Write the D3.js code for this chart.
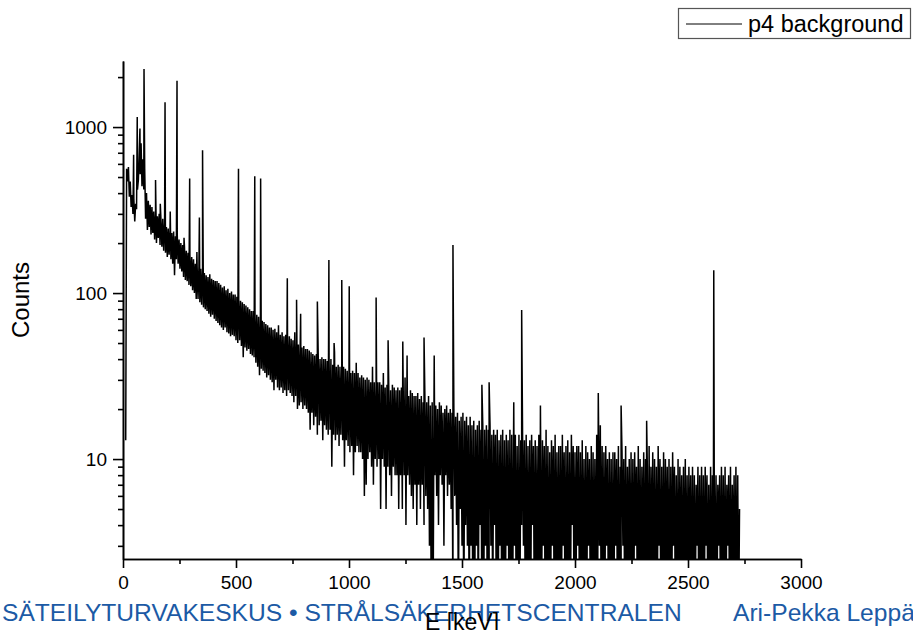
<!DOCTYPE html>
<html>
<head>
<meta charset="utf-8">
<script src="https://cdn.jsdelivr.net/npm/d3@7"></script>
<style>
  body { margin: 0; background: #fff; }
  svg { display: block; font-family: Arial, "Liberation Sans", sans-serif; }
</style>
</head>
<body>
<div class="container"></div>
<script>
const WIDTH = 913;
const HEIGHT = 630;
const LEFT = 123, RIGHT = 801, TOP = 61, BOTTOM = 559;

// spectrum as 8 keV bins starting at E0 keV: lowest and highest channel count in each bin
const E0 = 12;
const STEP = 8;
const binMin = [
  13, 470, 380, 330, 300, 270, 320, 480, 520, 440,
  420, 280, 240, 250, 225, 230, 210, 200, 215, 195,
  190, 180, 175, 165, 170, 160, 150, 128, 160, 150,
  140, 135, 125, 120, 118, 112, 110, 104, 100, 92,
  92, 88, 85, 82, 80, 78, 75, 72, 74, 70,
  68, 66, 64, 62, 60, 62, 58, 57, 55, 56,
  55, 52, 50, 52, 48, 41, 47, 45, 46, 43,
  42, 41, 38, 36, 32, 35, 34, 33, 31, 32,
  30, 29, 26, 30, 27, 26, 27, 25, 26, 24,
  26, 25, 24, 22, 24, 20, 21, 22, 20, 21,
  20, 19, 15, 19, 16, 18, 14, 16, 17, 13,
  16, 15, 14, 15, 9, 14, 13, 14, 12, 14,
  13, 9, 13, 12, 11, 12, 8, 11, 12, 11,
  11, 10, 6, 7, 10, 11, 9, 7, 10, 9,
  10, 5, 10, 9, 5, 9, 8, 6, 9, 8,
  8, 5, 8, 5, 8, 4, 8, 7, 6, 5,
  7, 4, 7, 5, 7, 4, 6, 5, 3, 0,
  0, 8, 6, 4, 8, 7, 3, 8, 6, 7,
  5, 0, 6, 4, 0, 5, 3, 0, 4, 3,
  0, 3, 0, 0, 3, 0, 4, 0, 0, 3,
  0, 0, 3, 0, 4, 0, 0, 3, 0, 0,
  0, 3, 0, 0, 0, 3, 0, 0, 0, 4,
  3, 0, 0, 0, 0, 4, 0, 0, 0, 0,
  0, 3, 0, 0, 0, 0, 3, 0, 0, 0,
  0, 0, 3, 0, 0, 0, 0, 4, 0, 0,
  3, 0, 0, 0, 0, 0, 3, 0, 0, 0,
  0, 0, 3, 0, 0, 0, 3, 0, 0, 0,
  0, 3, 0, 0, 0, 3, 0, 0, 2, 0,
  0, 0, 3, 0, 0, 0, 2, 0, 0, 0,
  0, 2, 0, 0, 0, 3, 0, 0, 0, 2,
  0, 0, 0, 3, 0, 0, 0, 2, 0, 0,
  0, 0, 2, 0, 0, 0, 3, 0, 0, 0,
  0, 3, 0, 0, 0, 2, 0, 0, 3, 0,
  0, 0, 0, 3, 0, 0, 2, 0, 0, 0
];
const binMax = [
  560, 575, 470, 390, 370, 345, 420, 720, 800, 640,
  560, 400, 360, 340, 330, 310, 300, 290, 300, 275,
  280, 265, 250, 245, 240, 230, 235, 220, 225, 210,
  200, 195, 190, 180, 175, 170, 165, 160, 150, 145,
  145, 140, 138, 132, 128, 125, 130, 122, 120, 118,
  118, 115, 112, 108, 110, 104, 106, 100, 102, 98,
  98, 95, 92, 90, 88, 86, 84, 82, 80, 78,
  78, 76, 74, 72, 70, 68, 67, 65, 64, 62,
  62, 60, 61, 58, 64, 56, 58, 55, 56, 54,
  55, 53, 52, 58, 51, 49, 48, 47, 48, 46,
  46, 45, 44, 43, 42, 43, 41, 40, 41, 40,
  40, 39, 38, 40, 37, 44, 36, 37, 36, 35,
  36, 35, 34, 35, 33, 34, 33, 38, 33, 31,
  32, 31, 30, 31, 30, 29, 36, 29, 28, 29,
  29, 28, 33, 27, 28, 27, 26, 28, 27, 26,
  27, 26, 27, 25, 31, 25, 24, 26, 25, 24,
  24, 25, 23, 24, 22, 23, 22, 24, 21, 22,
  22, 21, 20, 22, 21, 19, 20, 21, 19, 20,
  19, 20, 18, 19, 17, 18, 19, 17, 18, 16,
  18, 16, 17, 15, 16, 17, 15, 16, 15, 16,
  15, 16, 14, 15, 14, 15, 13, 14, 15, 13,
  14, 13, 15, 14, 13, 14, 12, 14, 13, 14,
  13, 14, 12, 13, 14, 12, 13, 12, 14, 13,
  13, 12, 15, 12, 11, 13, 12, 14, 11, 12,
  12, 14, 11, 12, 13, 11, 14, 12, 11, 12,
  12, 11, 13, 10, 12, 11, 10, 12, 11, 10,
  14, 18, 16, 12, 11, 12, 10, 11, 10, 11,
  11, 10, 12, 9, 11, 10, 12, 9, 10, 11,
  10, 11, 9, 12, 10, 9, 11, 10, 9, 12,
  9, 11, 10, 9, 12, 10, 9, 11, 10, 9,
  10, 9, 11, 9, 8, 10, 9, 8, 9, 10,
  8, 9, 8, 9, 8, 7, 9, 8, 9, 8,
  9, 8, 7, 9, 8, 9, 8, 7, 8, 9,
  8, 9, 7, 8, 9, 7, 8, 9, 8, 5
];

// gamma lines sitting on the continuum
const peakEnergy = [47, 63, 75, 93, 144, 165, 186, 209, 239, 270, 295, 327, 338, 352,
  511, 583, 609, 727, 768, 786, 860, 911, 934, 968, 1001, 1120, 1173, 1238, 1257,
  1332, 1377, 1460, 1588, 1620, 1729, 1764, 1847, 2103, 2204, 2317, 2614];
const peakCounts = [680, 1150, 980, 2240, 480, 345, 1410, 310, 1900, 215, 490, 177, 285, 725,
  560, 505, 490, 123, 91, 75, 89, 158, 50, 120, 110, 94, 52, 51, 42,
  54, 42, 195, 28, 29, 22, 79, 21, 25, 21, 17, 137];

const xMajor = [0, 500, 1000, 1500, 2000, 2500, 3000];
const xMinor = [250, 750, 1250, 1750, 2250, 2750];
const yMajor = [10, 100, 1000];
const yMinor = [3, 4, 5, 6, 7, 8, 9, 20, 30, 40, 50, 60, 70, 80, 90,
  200, 300, 400, 500, 600, 700, 800, 900, 2000];

const seriesName = "p4 background";
const xTitle = "E [keV]";
const yTitle = "Counts";
const footerLeft = "SÄTEILYTURVAKESKUS • STRÅLSÄKERHETSCENTRALEN";
const footerRight = "Ari-Pekka Leppänen";

var load = function(){
	// each bin: low channel at its start, high channel half a bin later
	var points = [];
	binMin.forEach(function(c, i){
		points.push({e: E0 + i*STEP, c: c});
		points.push({e: E0 + i*STEP + STEP/2, c: binMax[i]});
	});
	points = points
		.concat(peakEnergy.map(function(e, i){ return {e: e, c: peakCounts[i]}; }))
		.sort(function(a, b){ return a.e - b.e; });

	var xScale = d3.scaleLinear().domain([0, 3000]).range([LEFT, RIGHT]);
	var yScale = d3.scaleLog().domain([2.5, 2500]).range([BOTTOM, TOP]);

	var svg = d3.select(".container").append("svg")
		.attr("width", WIDTH)
		.attr("height", HEIGHT);

	svg.append("clipPath").attr("id", "plot")
		.append("rect")
		.attr("x", LEFT).attr("y", TOP)
		.attr("width", RIGHT - LEFT).attr("height", BOTTOM - TOP);

	var line = d3.line()
		.x(function(d){ return xScale(d.e); })
		.y(function(d){ return yScale(Math.max(d.c, 1)); });

	svg.append("path")
		.attr("clip-path", "url(#plot)")
		.attr("d", line(points))
		.style("fill", "none")
		.style("stroke", "#000")
		.style("stroke-width", 1.5);

	// axes
	var styleAxis = function(g){
		g.selectAll("path, line").style("stroke", "#000").style("stroke-width", 1.6);
		g.selectAll("text").style("font-size", "19px").style("fill", "#000")
			.style("font-family", "Arial, 'Liberation Sans', sans-serif");
	};

	svg.append("g").attr("transform", "translate(0," + BOTTOM + ")")
		.call(d3.axisBottom(xScale).tickValues(xMinor).tickSize(5).tickSizeOuter(0).tickFormat(""))
		.call(styleAxis);
	svg.append("g").attr("transform", "translate(0," + BOTTOM + ")")
		.call(d3.axisBottom(xScale).tickValues(xMajor).tickSize(9).tickSizeOuter(0).tickPadding(8)
			.tickFormat(d3.format("d")))
		.call(styleAxis);

	svg.append("g").attr("transform", "translate(" + LEFT + ",0)")
		.call(d3.axisLeft(yScale).tickValues(yMinor).tickSize(5).tickSizeOuter(0).tickFormat(""))
		.call(styleAxis);
	svg.append("g").attr("transform", "translate(" + LEFT + ",0)")
		.call(d3.axisLeft(yScale).tickValues(yMajor).tickSize(10).tickSizeOuter(0).tickPadding(6)
			.tickFormat(d3.format("d")))
		.call(styleAxis);

	// titles
	svg.append("text")
		.attr("transform", "translate(29,300) rotate(-90)")
		.attr("text-anchor", "middle")
		.style("font-size", "24px")
		.text(yTitle);

	// footer (drawn before the x title so the title sits on top)
	svg.append("text")
		.attr("x", 2).attr("y", 621)
		.style("font-size", "24.6px")
		.style("fill", "#1c5aa5")
		.text(footerLeft);
	svg.append("text")
		.attr("x", 733).attr("y", 621)
		.style("font-size", "24.6px")
		.style("fill", "#1c5aa5")
		.text(footerRight);

	svg.append("text")
		.attr("x", (LEFT + RIGHT) / 2).attr("y", 630)
		.attr("text-anchor", "middle")
		.style("font-size", "23px")
		.text(xTitle);

	// legend
	var legend = svg.append("g");
	legend.append("rect")
		.attr("x", 678.5).attr("y", 8.5)
		.attr("width", 232).attr("height", 30)
		.style("fill", "#fff")
		.style("stroke", "#555")
		.style("stroke-width", 1.2);
	legend.append("line")
		.attr("x1", 686).attr("x2", 742)
		.attr("y1", 24).attr("y2", 24)
		.style("stroke", "#000").style("stroke-width", 1);
	legend.append("text")
		.attr("x", 748).attr("y", 32)
		.style("font-size", "23.5px")
		.text(seriesName);
};

window.onload = load;
</script>
</body>
</html>
